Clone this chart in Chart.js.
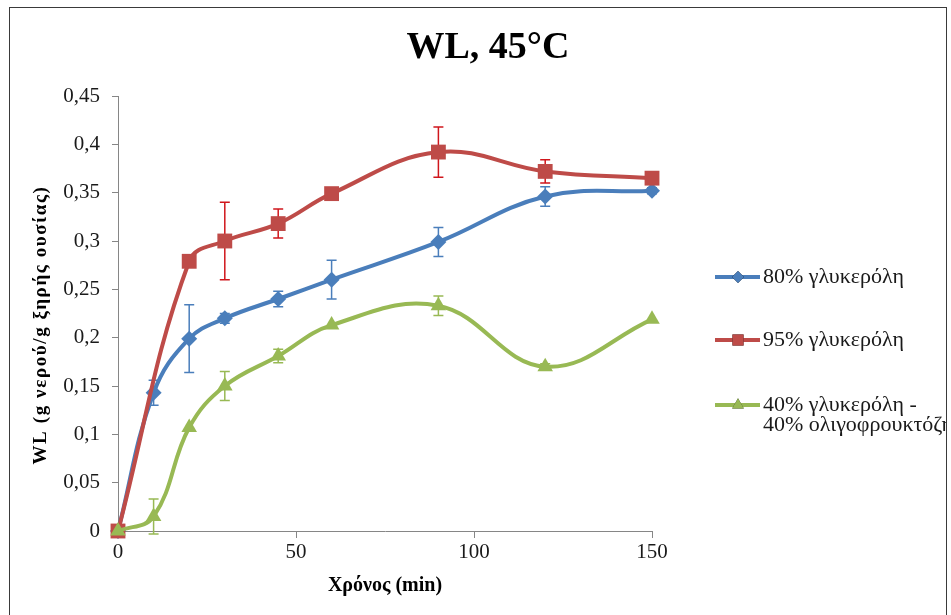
<!DOCTYPE html>
<html>
<head>
<meta charset="utf-8">
<script src="https://cdn.jsdelivr.net/npm/chart.js@4.4.1/dist/chart.umd.min.js"></script>
<style>
  html, body { margin: 0; padding: 0; background: #fff; }
  #wrap { width: 951px; height: 615px; position: relative; }
</style>
</head>
<body>
<div id="wrap"><canvas id="wlChart" width="951" height="615"></canvas></div>
<script>
// times (min) and WL values
const timesBlue = [0, 10, 20, 30, 45, 60, 90, 120, 150];
const wlBlue = [0, 0.143, 0.199, 0.220, 0.240, 0.260, 0.299, 0.346, 0.352];
const errBlue = [0, 0.013, 0.035, 0.005, 0.008, 0.020, 0.015, 0.010, 0.003];

const timesRed = [0, 20, 30, 45, 60, 90, 120, 150];
const wlRed = [0, 0.279, 0.300, 0.318, 0.349, 0.392, 0.372, 0.365];
const errRed = [0, 0, 0.040, 0.015, 0.003, 0.026, 0.012, 0.003];

const timesGreen = [0, 10, 20, 30, 45, 60, 90, 120, 150];
const wlGreen = [0, 0.015, 0.107, 0.150, 0.181, 0.213, 0.233, 0.170, 0.219];
const errGreen = [0, 0.018, 0, 0.015, 0.007, 0, 0.010, 0.003, 0];

const seriesLabels = [
  ['80% γλυκερόλη'],
  ['95% γλυκερόλη'],
  ['40% γλυκερόλη -', '40% ολιγοφρουκτόζη']
];
const xTicks = [0, 50, 100, 150];
const yTitle = 'WL (g νερού/g ξηρής ουσίας)';

const serif = '"Liberation Serif", "Times New Roman", serif';
const toPoints = (xs, ys) => xs.map((x, i) => ({ x: x, y: ys[i] }));

const errorBars = {
  id: 'errorBars',
  beforeDatasetsDraw(chart) {
    const { ctx, scales: { x, y } } = chart;
    chart.data.datasets.forEach(ds => {
      ctx.save();
      ctx.strokeStyle = ds.errColor;
      ctx.lineWidth = 1.5;
      ds.data.forEach((p, i) => {
        const e = ds.errors[i];
        if (!e) return;
        const px = x.getPixelForValue(p.x);
        const top = y.getPixelForValue(p.y + e);
        const bot = y.getPixelForValue(p.y - e);
        ctx.beginPath();
        ctx.moveTo(px, top); ctx.lineTo(px, bot);
        ctx.moveTo(px - 5, top); ctx.lineTo(px + 5, top);
        ctx.moveTo(px - 5, bot); ctx.lineTo(px + 5, bot);
        ctx.stroke();
      });
      ctx.restore();
    });
  }
};

const decorations = {
  id: 'decorations',
  afterDraw(chart) {
    const ctx = chart.ctx;
    ctx.save();
    // outer frame
    ctx.strokeStyle = '#3a3a3a';
    ctx.lineWidth = 1;
    ctx.strokeRect(9.5, 7.5, 937, 640);

    // title
    ctx.fillStyle = '#000';
    ctx.font = 'bold 38px ' + serif;
    ctx.textAlign = 'center';
    ctx.textBaseline = 'alphabetic';
    ctx.fillText('WL, 45°C', 488, 58);

    // y axis title, a little letter-spaced like the original
    ctx.save();
    ctx.translate(41, 325);
    ctx.rotate(-Math.PI / 2);
    ctx.font = 'bold 19px ' + serif;
    ctx.letterSpacing = '1.6px';
    ctx.textBaseline = 'middle';
    ctx.fillText(yTitle, 0, 0);
    ctx.restore();

    // legend
    ctx.beginPath();
    ctx.rect(10, 8, 936, 607);
    ctx.clip();
    const rows = [277, 340, 405];
    chart.data.datasets.forEach((ds, i) => {
      const cy = rows[i];
      ctx.strokeStyle = ds.borderColor;
      ctx.lineWidth = 4;
      ctx.beginPath();
      ctx.moveTo(715, cy); ctx.lineTo(760, cy);
      ctx.stroke();
      Chart.helpers.drawPoint(ctx, {
        pointStyle: ds.pointStyle, radius: ds.pointRadius * 0.75, rotation: 0, borderWidth: 0
      }, 738, cy);
      ctx.fillStyle = ds.backgroundColor;
      ctx.fill();
      ctx.fillStyle = '#1a1a1a';
      ctx.font = '22px ' + serif;
      ctx.textAlign = 'left';
      ctx.textBaseline = 'middle';
      seriesLabels[i].forEach((t, k) => ctx.fillText(t, 763, cy + k * 20));
    });
    ctx.restore();
  }
};

const makeSet = (label, xs, ys, errs, color, errColor, style, radius, order) => ({
  label: label,
  data: toPoints(xs, ys),
  errors: errs,
  errColor: errColor,
  borderColor: color,
  backgroundColor: color,
  borderWidth: 4,
  pointStyle: style,
  pointRadius: radius,
  pointHoverRadius: radius,
  pointBorderWidth: 0,
  tension: 0.4,
  clip: false,
  order: order
});

new Chart(document.getElementById('wlChart'), {
  type: 'line',
  data: {
    datasets: [
      makeSet(seriesLabels[0].join(' '), timesBlue, wlBlue, errBlue, '#4A7EBB', '#4A7EBB', 'rectRot', 8, 3),
      makeSet(seriesLabels[1].join(' '), timesRed, wlRed, errRed, '#BE4B48', '#D0161C', 'rect', 10.5, 2),
      makeSet(seriesLabels[2].join(' '), timesGreen, wlGreen, errGreen, '#98B954', '#98B954', 'triangle', 9, 1)
    ]
  },
  options: {
    responsive: false,
    animation: false,
    layout: { padding: { top: 96, left: 9, right: 299, bottom: 0 } },
    plugins: {
      legend: { display: false },
      tooltip: { enabled: false },
      title: { display: false }
    },
    scales: {
      x: {
        type: 'linear',
        min: 0,
        max: 150,
        afterFit: s => { s.height = 84; },
        afterBuildTicks: s => { s.ticks = xTicks.map(v => ({ value: v })); },
        grid: { drawOnChartArea: false, tickLength: 7, color: '#868686' },
        border: { color: '#868686', width: 1 },
        ticks: { color: '#1a1a1a', font: { family: serif, size: 21 }, padding: 2, maxRotation: 0 },
        title: {
          display: true,
          text: 'Χρόνος (min)',
          color: '#000',
          font: { family: serif, size: 20, weight: 'bold' },
          padding: { top: 0, bottom: 17 }
        }
      },
      y: {
        min: 0,
        max: 0.45,
        afterFit: s => { s.width = 109; },
        grid: { drawOnChartArea: false, tickLength: 6, color: '#868686' },
        border: { color: '#868686', width: 1 },
        ticks: {
          stepSize: 0.05,
          color: '#1a1a1a',
          font: { family: serif, size: 21 },
          padding: 12,
          callback: v => String(+v.toFixed(2)).replace('.', ',')
        },
        title: { display: false }
      }
    }
  },
  plugins: [errorBars, decorations]
});
</script>
</body>
</html>
